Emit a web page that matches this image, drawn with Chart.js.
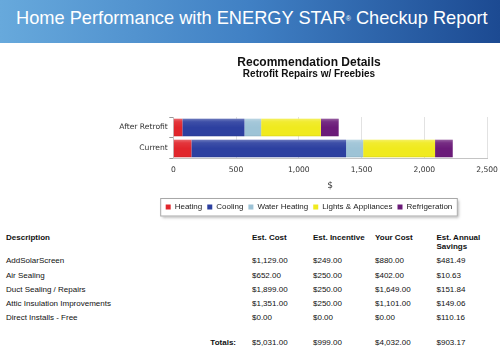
<!DOCTYPE html>
<html><head><meta charset="utf-8">
<script src="https://cdn.jsdelivr.net/npm/chart.js@4"></script>
<style>
html,body{margin:0;padding:0;width:500px;height:357px;overflow:hidden;background:#fff;font-family:"Liberation Sans",Arial,sans-serif;color:#111}
#banner{position:absolute;left:0;top:0;width:500px;height:43px;background:linear-gradient(90deg,#67a9dc 0%,#4080c4 50%,#1c4a92 100%)}
#btxt{position:absolute;left:16px;top:8px;color:#fff;font-size:18px;line-height:20px;white-space:nowrap;font-family:"Liberation Sans",Arial,sans-serif}
#btxt sup{font-size:7px;vertical-align:top;position:relative;top:1px}
#wrap{position:absolute;left:118px;top:43px;width:382px;height:180px}
.t{position:absolute;font-size:8px;white-space:nowrap;line-height:9px;color:#111}
.b{font-weight:bold}
</style></head>
<body>
<div id="banner"><div id="btxt">Home Performance with ENERGY STAR<sup>®</sup> Checkup Report</div></div>
<div id="wrap"><canvas id="c"></canvas></div>
<div id="table"></div>
<script>
// ---- chart data ----
const categories = ["After Retrofit", "Current"];
const heating = [72, 144];
const cooling = [495, 1233];
const waterHeating = [133, 136];
const lightsAppliances = [476, 573];
const refrigeration = [142, 141];
const xTicks = [0, 500, 1000, 1500, 2000, 2500];

// ---- table data ----
const descriptions = ["AddSolarScreen", "Air Sealing", "Duct Sealing / Repairs", "Attic Insulation Improvements", "Direct Installs - Free"];
const estCost = [1129.00, 652.00, 1899.00, 1351.00, 0.00];
const estIncentive = [249.00, 250.00, 250.00, 250.00, 0.00];
const yourCost = [880.00, 402.00, 1649.00, 1101.00, 0.00];
const annualSavings = [481.49, 10.63, 151.84, 149.06, 110.16];
const totals = [5031.00, 999.00, 4032.00, 903.17];
const headers = ["Description", "Est. Cost", "Est. Incentive", "Your Cost", "Est. Annual<br>Savings"];

// banner text: fit to the reference width
const bt = document.getElementById('btxt');
const natW = bt.getBoundingClientRect().width;
bt.style.fontSize = (18 * 472 / natW).toFixed(2) + 'px';

// table
const fmt = v => '$' + v.toLocaleString('en-US', {minimumFractionDigits: 2, maximumFractionDigits: 2});
const colX = [6, 252, 313, 375, 436.5];
let html = '';
headers.forEach((h, i) => { html += `<div class="t b" style="left:${colX[i]}px;top:232.5px">${h}</div>`; });
descriptions.forEach((d, r) => {
  const top = 256.3 + 14.25 * r;
  const vals = [d, fmt(estCost[r]), fmt(estIncentive[r]), fmt(yourCost[r]), fmt(annualSavings[r])];
  vals.forEach((v, i) => { html += `<div class="t" style="left:${colX[i]}px;top:${top}px">${v}</div>`; });
});
html += `<div class="t b" style="right:${500 - 236}px;top:337.5px">Totals:</div>`;
totals.forEach((v, i) => { html += `<div class="t" style="left:${colX[i + 1]}px;top:337.5px">${fmt(v)}</div>`; });
document.getElementById('table').innerHTML = html;

// legend frame plugin
const legendFrame = {
  id: 'legendFrame',
  beforeDraw(chart) {
    const lg = chart.legend;
    if (!lg || !lg.legendHitBoxes || !lg.legendHitBoxes.length) return;
    const hb = lg.legendHitBoxes;
    const l = hb[0].left - 5.5, r = hb[hb.length - 1].left + hb[hb.length - 1].width + 5.5;
    const t = lg.top, h = 18.5;
    const ctx = chart.ctx;
    ctx.save();
    ctx.shadowColor = 'rgba(0,0,0,0.35)';
    ctx.shadowBlur = 3;
    ctx.shadowOffsetX = 1.5;
    ctx.shadowOffsetY = 1.5;
    ctx.fillStyle = '#fff';
    ctx.fillRect(l, t, r - l, h);
    ctx.shadowColor = 'transparent';
    ctx.strokeStyle = '#a8a8a8';
    ctx.lineWidth = 1;
    ctx.strokeRect(l + 0.5, t + 0.5, r - l - 1, h - 1);
    ctx.restore();
  }
};

// subtle gloss on the bars, using the library's bar elements
const barGloss = {
  id: 'barGloss',
  afterDatasetsDraw(chart) {
    const ctx = chart.ctx;
    ctx.save();
    chart.data.datasets.forEach((ds, i) => {
      chart.getDatasetMeta(i).data.forEach(el => {
        const p = el.getProps(['x', 'y', 'base', 'height'], true);
        const x0 = Math.min(p.x, p.base), w = Math.abs(p.x - p.base);
        const top = p.y - p.height / 2;
        const g = ctx.createLinearGradient(0, top, 0, top + p.height);
        g.addColorStop(0, 'rgba(255,255,255,0.30)');
        g.addColorStop(0.18, 'rgba(255,255,255,0.08)');
        g.addColorStop(0.5, 'rgba(255,255,255,0)');
        g.addColorStop(0.9, 'rgba(0,0,0,0)');
        g.addColorStop(1, 'rgba(0,0,0,0.08)');
        ctx.fillStyle = g;
        ctx.fillRect(x0, top, w, p.height);
      });
    });
    ctx.restore();
  }
};

const tickFont = {family: '"DejaVu Sans", Verdana, sans-serif', size: 7.6};
new Chart(document.getElementById('c'), {
  type: 'bar',
  data: {
    labels: categories,
    datasets: [
      {label: 'Heating', data: heating, backgroundColor: '#e1262c'},
      {label: 'Cooling', data: cooling, backgroundColor: '#2d40a0'},
      {label: 'Water Heating', data: waterHeating, backgroundColor: '#9dc3d6'},
      {label: 'Lights & Appliances', data: lightsAppliances, backgroundColor: '#f0ea1e'},
      {label: 'Refrigeration', data: refrigeration, backgroundColor: '#6b1b79'}
    ]
  },
  options: {
    indexAxis: 'y',
    responsive: true,
    maintainAspectRatio: false,
    animation: false,
    datasets: {bar: {barPercentage: 0.84, categoryPercentage: 1, borderWidth: 0}},
    layout: {padding: {left: 0, right: 0, top: 0, bottom: 2}},
    scales: {
      x: {
        stacked: true, min: 0, max: 2500,
        afterBuildTicks: s => { s.ticks = xTicks.map(v => ({value: v})); },
        afterFit: s => { s.paddingRight = 13; },
        ticks: {font: tickFont, color: '#333', padding: 6, maxRotation: 0},
        grid: {color: '#e2e2e2', drawTicks: false},
        border: {color: '#c4c4c4'},
        title: {display: true, text: '$', font: {family: '"DejaVu Sans", Verdana, sans-serif', size: 9}, color: '#333', padding: {top: 0, bottom: 7.1}}
      },
      y: {
        stacked: true,
        afterFit: s => { s.width = 55.3; },
        ticks: {font: tickFont, color: '#333', padding: 1.5},
        grid: {drawOnChartArea: false, drawTicks: true, tickLength: 4, color: '#999'},
        border: {color: '#c4c4c4'}
      }
    },
    plugins: {
      title: {display: true, text: 'Recommendation Details', color: '#111', font: {family: '"Liberation Sans", Arial, sans-serif', size: 12, weight: 'bold', lineHeight: 1}, padding: {top: 13.5, bottom: 0}},
      subtitle: {display: true, text: 'Retrofit Repairs w/ Freebies', color: '#111', font: {family: '"Liberation Sans", Arial, sans-serif', size: 10, weight: 'bold', lineHeight: 1}, padding: {top: 1, bottom: 37.5}},
      legend: {position: 'bottom', labels: {boxWidth: 5, boxHeight: 5, padding: 5, color: '#222', font: {family: '"Liberation Sans", Arial, sans-serif', size: 8}}},
      tooltip: {enabled: false}
    }
  },
  plugins: [legendFrame, barGloss]
});
</script>
</body></html>
